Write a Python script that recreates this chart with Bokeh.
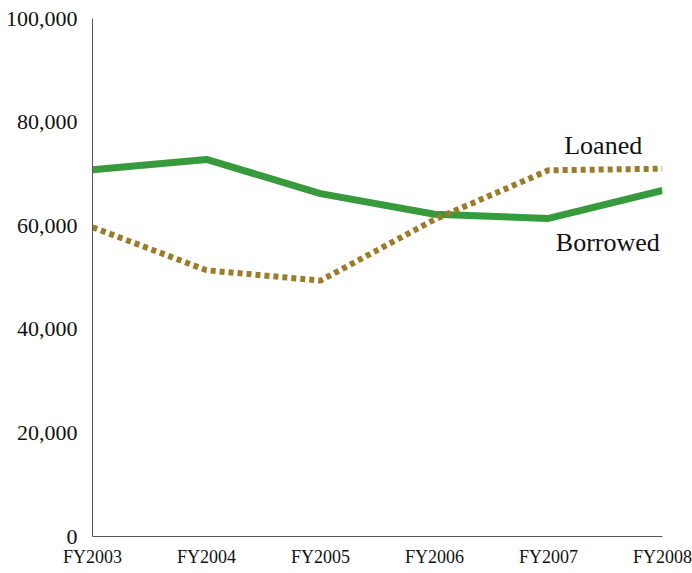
from bokeh.plotting import figure
from bokeh.models import Range1d, FixedTicker, NumeralTickFormatter
from bokeh.core.properties import value
from bokeh.embed import file_html
from bokeh.resources import INLINE

years = ["FY2003", "FY2004", "FY2005", "FY2006", "FY2007", "FY2008"]
borrowed = [70800, 72800, 66200, 62200, 61400, 66800]
loaned = [59700, 51400, 49400, 61200, 70700, 71000]
y_ticks = [0, 20000, 40000, 60000, 80000, 100000]

xs = list(range(len(years)))

p = figure(width=692, height=573, output_backend="svg", toolbar_location=None,
           x_range=Range1d(0, len(years) - 1), y_range=Range1d(0, 100000),
           min_border_left=92, min_border_right=30, min_border_top=18, min_border_bottom=37)
p.outline_line_color = None
p.grid.grid_line_color = None
p.background_fill_color = "white"
p.border_fill_color = "white"

p.line(xs, borrowed, line_color="#379a3c", line_width=7)
p.line(xs, loaned, line_color="#9c7c2a", line_width=6, line_dash="5 4", line_cap="butt")

p.text(x=[4.48], y=[75500], text=["Loaned"], text_font=value("Liberation Serif"),
       text_font_size="26px", text_align="center", text_baseline="middle", text_color="#111111")
p.text(x=[4.52], y=[56800], text=["Borrowed"], text_font=value("Liberation Serif"),
       text_font_size="26px", text_align="center", text_baseline="middle", text_color="#111111")

p.xaxis.ticker = FixedTicker(ticks=xs)
p.xaxis.major_label_overrides = {i: y for i, y in enumerate(years)}
p.yaxis.ticker = FixedTicker(ticks=y_ticks)
p.yaxis.formatter = NumeralTickFormatter(format="0,0")

for ax in (p.xaxis[0], p.yaxis[0]):
    ax.major_tick_line_color = None
    ax.minor_tick_line_color = None
    ax.major_tick_out = 0
    ax.major_tick_in = 0
    ax.axis_line_color = "#555555"
    ax.axis_line_width = 1
    ax.major_label_text_font = "Liberation Serif"
    ax.major_label_text_color = "#111111"

p.yaxis.major_label_text_font_size = "22px"
p.yaxis.major_label_standoff = 15
p.xaxis.major_label_text_font_size = "18px"
p.xaxis.major_label_standoff = 10

open("out.html", "w").write(file_html(p, INLINE))
